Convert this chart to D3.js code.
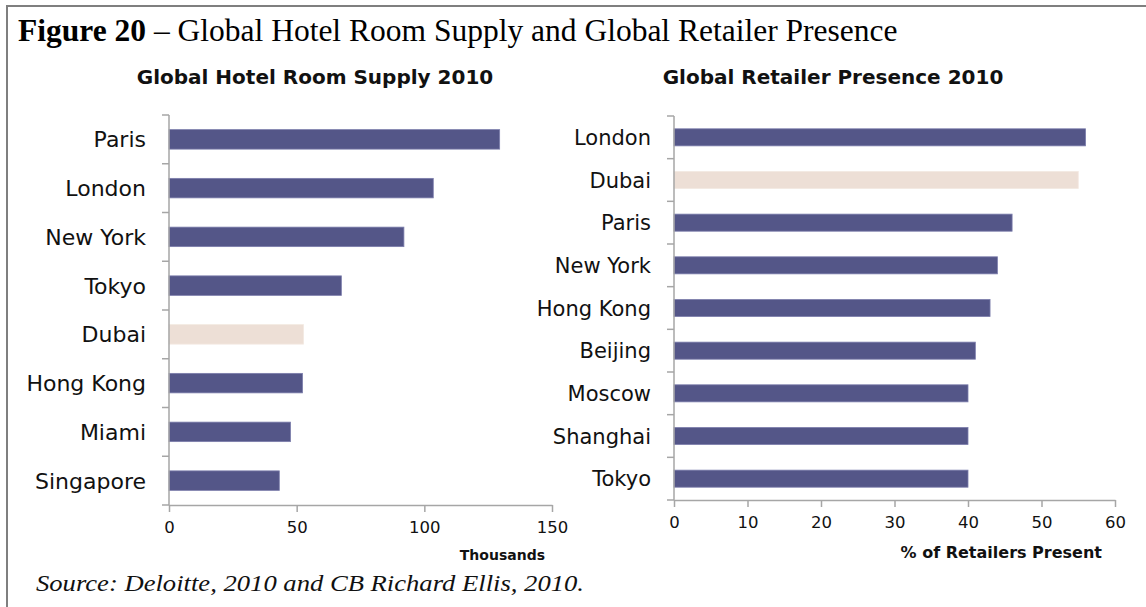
<!DOCTYPE html>
<html>
<head>
<meta charset="utf-8">
<script src="https://cdn.jsdelivr.net/npm/d3@7"></script>
<style>
  body { margin: 0; background: #fff; }
  svg { display: block; }
  .lbl { font-family: "DejaVu Sans", sans-serif; fill: #111; }
</style>
</head>
<body>
<svg id="chart" width="1146" height="607"></svg>
<script>
// hotel room supply (thousands)
var hotelCities = ["Paris", "London", "New York", "Tokyo", "Dubai", "Hong Kong", "Miami", "Singapore"];
var hotelRooms = [129.5, 103.5, 92, 67.5, 52.7, 52.3, 47.6, 43.2];
var hotelTicks = [0, 50, 100, 150];

// retailer presence (%)
var retailCities = ["London", "Dubai", "Paris", "New York", "Hong Kong", "Beijing", "Moscow", "Shanghai", "Tokyo"];
var retailShare = [56, 55, 46, 44, 43, 41, 40, 40, 40];
var retailTicks = [0, 10, 20, 30, 40, 50, 60];

var barColor = "#545688",
    dubaiColor = "#eddfd6",
    axisColor = "#a6a6a6";

var svg = d3.select("#chart");

// frame
svg.append("path")
   .attr("d", "M7,607 V6 H1146")
   .attr("fill", "none")
   .attr("stroke", "#7f7f7f")
   .attr("stroke-width", 2);

// figure title
var title = svg.append("text")
   .attr("x", 18)
   .attr("y", 41)
   .attr("font-family", "Liberation Serif, serif")
   .attr("font-size", "31.5px")
   .attr("fill", "#000");
title.append("tspan").attr("font-weight", "bold").text("Figure 20");
title.append("tspan").text(" \u2013 Global Hotel Room Supply and Global Retailer Presence");

// source note
svg.append("text")
   .attr("x", 36)
   .attr("y", 591)
   .attr("font-family", "Liberation Serif, serif")
   .attr("font-style", "italic")
   .attr("font-size", "24px")
   .attr("textLength", 548)
   .attr("lengthAdjust", "spacingAndGlyphs")
   .attr("fill", "#111")
   .text("Source: Deloitte, 2010 and CB Richard Ellis, 2010.");

function drawPanel(opts) {
    var cats = opts.cats, vals = opts.vals;

    var x = d3.scaleLinear().domain(opts.xDomain).range(opts.xRange);
    var y = d3.scaleBand().domain(cats).range(opts.yRange)
              .paddingInner(0.6).paddingOuter(0.3);

    var g = svg.append("g");

    // chart title
    g.append("text")
     .attr("class", "lbl")
     .attr("x", opts.titleX)
     .attr("y", 84)
     .attr("text-anchor", "middle")
     .attr("font-weight", "bold")
     .attr("font-size", "20px")
     .text(opts.title);

    // bars
    g.selectAll(".bar")
     .data(cats)
     .enter().append("rect")
     .attr("class", "bar")
     .attr("x", x(0))
     .attr("y", function(d) { return y(d); })
     .attr("width", function(d, i) { return x(vals[i]) - x(0); })
     .attr("height", y.bandwidth())
     .attr("fill", function(d) { return d == "Dubai" ? dubaiColor : barColor; })
     .attr("stroke", function(d) { return d == "Dubai" ? "#f3e9e1" : "#7c7eac"; })
     .attr("stroke-width", 0.8);

    // y axis line + ticks between categories
    var y0 = opts.yRange[0], y1 = opts.yRange[1], step = y.step();
    g.append("line")
     .attr("x1", x(0)).attr("x2", x(0))
     .attr("y1", y0).attr("y2", y1)
     .attr("stroke", axisColor).attr("stroke-width", 1.5);
    g.selectAll(".ytick")
     .data(d3.range(cats.length + 1))
     .enter().append("line")
     .attr("class", "ytick")
     .attr("x1", x(0) - 7).attr("x2", x(0))
     .attr("y1", function(i) { return y0 + i * step; })
     .attr("y2", function(i) { return y0 + i * step; })
     .attr("stroke", axisColor).attr("stroke-width", 1.5);

    // category labels
    g.selectAll(".cat")
     .data(cats)
     .enter().append("text")
     .attr("class", "lbl")
     .attr("x", x(0) - 23)
     .attr("y", function(d) { return y(d) + y.bandwidth() / 2; })
     .attr("dy", "0.36em")
     .attr("text-anchor", "end")
     .attr("font-size", opts.catSize)
     .text(function(d) { return d; });

    // x axis
    var xa = g.append("g")
     .attr("transform", "translate(0," + y1 + ")")
     .call(d3.axisBottom(x).tickValues(opts.ticks).tickSize(7).tickSizeOuter(0).tickPadding(9));
    xa.select(".domain").attr("stroke", axisColor).attr("stroke-width", 1.5);
    xa.selectAll(".tick line").attr("stroke", axisColor).attr("stroke-width", 1.5);
    xa.selectAll(".tick text")
      .attr("class", "lbl")
      .attr("font-family", "DejaVu Sans, sans-serif")
      .attr("font-size", "16.5px")
      .attr("fill", "#111");

    // axis title
    g.append("text")
     .attr("class", "lbl")
     .attr("x", opts.axisTitleX)
     .attr("y", opts.axisTitleY)
     .attr("text-anchor", "end")
     .attr("font-weight", "bold")
     .attr("font-size", opts.axisTitleSize)
     .text(opts.axisTitle);
}

drawPanel({
    cats: hotelCities, vals: hotelRooms, ticks: hotelTicks,
    xDomain: [0, 150], xRange: [169, 552], yRange: [115, 505],
    title: "Global Hotel Room Supply 2010", titleX: 315,
    axisTitle: "Thousands", axisTitleX: 545, axisTitleY: 560, axisTitleSize: "14px",
    catSize: "22px"
});

drawPanel({
    cats: retailCities, vals: retailShare, ticks: retailTicks,
    xDomain: [0, 60], xRange: [674, 1115], yRange: [116, 500],
    title: "Global Retailer Presence 2010", titleX: 833,
    axisTitle: "% of Retailers Present", axisTitleX: 1102, axisTitleY: 558, axisTitleSize: "16px",
    catSize: "21px"
});
</script>
</body>
</html>
